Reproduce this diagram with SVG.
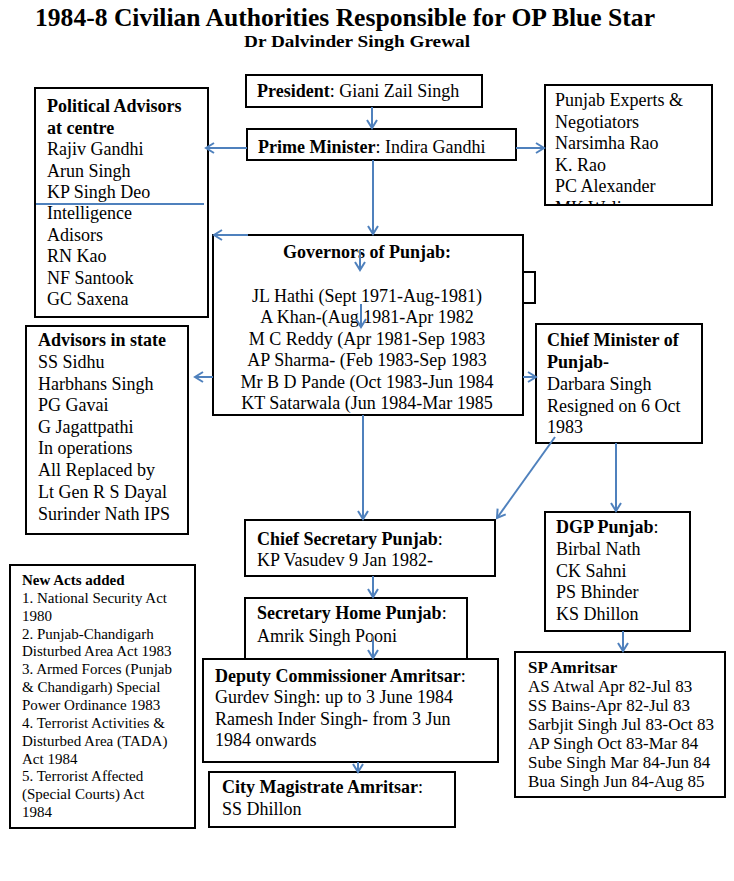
<svg xmlns="http://www.w3.org/2000/svg" width="734" height="881" viewBox="0 0 734 881">
<style>
text{font-family:"Liberation Serif","Times New Roman",serif;font-size:18px;fill:#000}
.b{font-weight:bold}
.s15{font-size:15px}
.s17{font-size:17px}
.box{fill:#fff;stroke:#000;stroke-width:2}
.con{stroke:#4F81BD;stroke-width:2;fill:none}
.arr{marker-end:url(#ah)}
</style>
<defs>
<marker id="ah" markerUnits="userSpaceOnUse" markerWidth="14" markerHeight="14" refX="10" refY="6" orient="auto">
<path d="M2,1 L10,6 L2,11" fill="none" stroke="#4F81BD" stroke-width="2"/>
</marker>
<clipPath id="clipExp"><rect x="546" y="86" width="165" height="118"/></clipPath>
</defs>
<rect width="734" height="881" fill="#fff"/>

<g id="title">
<text x="345" y="26" text-anchor="middle" class="b" style="font-size:26px" textLength="620" lengthAdjust="spacingAndGlyphs">1984-8 Civilian Authorities Responsible for OP Blue Star</text>
<text x="357" y="47" text-anchor="middle" class="b" style="font-size:16px" textLength="226" lengthAdjust="spacingAndGlyphs">Dr Dalvinder Singh Grewal</text>
</g>

<g id="bracket">
<path d="M523,272 H535 V303 H523" fill="none" stroke="#000" stroke-width="2"/>
</g>

<g id="president">
<rect class="box" x="246" y="75" width="236" height="32"/>
<text x="257" y="97"><tspan class="b">President</tspan>: Giani Zail Singh</text>
</g>

<g id="pm">
<rect class="box" x="247" y="129" width="269" height="31"/>
<text x="258" y="153"><tspan class="b">Prime Minister</tspan>: Indira Gandhi</text>
</g>

<g id="political">
<rect class="box" x="35" y="88" width="173" height="229"/>
<text x="47" y="112" class="b">Political Advisors</text>
<text x="47" y="133.5" class="b">at centre</text>
<text x="47" y="155">Rajiv Gandhi</text>
<text x="47" y="177">Arun Singh</text>
<text x="47" y="198">KP Singh Deo</text>
<text x="47" y="219">Intelligence</text>
<text x="47" y="241">Adisors</text>
<text x="47" y="262">RN Kao</text>
<text x="47" y="284">NF Santook</text>
<text x="47" y="305">GC Saxena</text>
</g>

<g id="experts">
<rect class="box" x="545" y="85" width="167" height="120"/>
<g clip-path="url(#clipExp)">
<text x="555" y="106">Punjab Experts &amp;</text>
<text x="555" y="127.5">Negotiators</text>
<text x="555" y="149">Narsimha Rao</text>
<text x="555" y="170.5">K. Rao</text>
<text x="555" y="192">PC Alexander</text>
<text x="555" y="213.5">MK Wali</text>
</g>
</g>

<g id="governors">
<rect class="box" x="213" y="235" width="310" height="180"/>
<text x="367" y="258" text-anchor="middle" class="b">Governors of Punjab:</text>
<text x="367" y="302" text-anchor="middle">JL Hathi (Sept 1971-Aug-1981)</text>
<text x="367" y="323" text-anchor="middle">A Khan-(Aug 1981-Apr 1982</text>
<text x="367" y="344.5" text-anchor="middle">M C Reddy (Apr 1981-Sep 1983</text>
<text x="367" y="366" text-anchor="middle">AP Sharma- (Feb 1983-Sep 1983</text>
<text x="367" y="387.5" text-anchor="middle">Mr B D Pande (Oct 1983-Jun 1984</text>
<text x="367" y="409" text-anchor="middle">KT Satarwala (Jun 1984-Mar 1985</text>
</g>

<g id="advisors-state">
<rect class="box" x="26" y="326" width="162" height="208"/>
<text x="38" y="346" class="b">Advisors in state</text>
<text x="38" y="368">SS Sidhu</text>
<text x="38" y="390">Harbhans Singh</text>
<text x="38" y="411">PG Gavai</text>
<text x="38" y="433">G Jagattpathi</text>
<text x="38" y="454">In operations</text>
<text x="38" y="476">All Replaced by</text>
<text x="38" y="498">Lt Gen R S Dayal</text>
<text x="38" y="520">Surinder Nath IPS</text>
</g>

<g id="chief-minister">
<rect class="box" x="536" y="324" width="166" height="119"/>
<text x="547" y="346" class="b">Chief Minister of</text>
<text x="547" y="368" class="b">Punjab-</text>
<text x="547" y="390">Darbara Singh</text>
<text x="547" y="411.5">Resigned on 6 Oct</text>
<text x="547" y="433">1983</text>
</g>

<g id="chief-secretary">
<rect class="box" x="245" y="520" width="250" height="56"/>
<text x="257" y="545"><tspan class="b">Chief Secretary Punjab</tspan>:</text>
<text x="257" y="566">KP Vasudev 9 Jan 1982-</text>
</g>

<g id="dgp">
<rect class="box" x="545" y="512" width="145" height="119"/>
<text x="556" y="533"><tspan class="b">DGP Punjab</tspan>:</text>
<text x="556" y="555">Birbal Nath</text>
<text x="556" y="577">CK Sahni</text>
<text x="556" y="598">PS Bhinder</text>
<text x="556" y="620">KS Dhillon</text>
</g>

<g id="secretary-home">
<rect class="box" x="245" y="598" width="222" height="61"/>
<text x="257" y="619"><tspan class="b">Secretary Home Punjab</tspan>:</text>
<text x="257" y="642">Amrik Singh Pooni</text>
</g>

<g id="deputy-commissioner">
<rect class="box" x="203" y="659" width="295" height="103"/>
<text x="215" y="682"><tspan class="b">Deputy Commissioner Amritsar</tspan>:</text>
<text x="215" y="703">Gurdev Singh: up to 3 June 1984</text>
<text x="215" y="725">Ramesh Inder Singh- from 3 Jun</text>
<text x="215" y="746">1984 onwards</text>
</g>

<g id="city-magistrate">
<rect class="box" x="209" y="772" width="246" height="55"/>
<text x="222" y="793"><tspan class="b">City Magistrate Amritsar</tspan>:</text>
<text x="222" y="815">SS Dhillon</text>
</g>

<g id="new-acts">
<rect class="box" x="10" y="565" width="185" height="263"/>
<text class="s15 b" x="22" y="585">New Acts added</text>
<text class="s15" x="22" y="602.85">1. National Security Act</text>
<text class="s15" x="22" y="620.7">1980</text>
<text class="s15" x="22" y="638.55">2. Punjab-Chandigarh</text>
<text class="s15" x="22" y="656.4">Disturbed Area Act 1983</text>
<text class="s15" x="22" y="674.25">3. Armed Forces (Punjab</text>
<text class="s15" x="22" y="692.1">&amp; Chandigarh) Special</text>
<text class="s15" x="22" y="709.95">Power Ordinance 1983</text>
<text class="s15" x="22" y="727.8">4. Terrorist Activities &amp;</text>
<text class="s15" x="22" y="745.65">Disturbed Area (TADA)</text>
<text class="s15" x="22" y="763.5">Act 1984</text>
<text class="s15" x="22" y="781.35">5. Terrorist Affected</text>
<text class="s15" x="22" y="799.2">(Special Courts) Act</text>
<text class="s15" x="22" y="817">1984</text>
</g>

<g id="sp-amritsar">
<rect class="box" x="515" y="652" width="210" height="145"/>
<text class="s17 b" x="528" y="673">SP Amritsar</text>
<text class="s17" x="528" y="692">AS Atwal Apr 82-Jul 83</text>
<text class="s17" x="528" y="711">SS Bains-Apr 82-Jul 83</text>
<text class="s17" x="528" y="730">Sarbjit Singh Jul 83-Oct 83</text>
<text class="s17" x="528" y="749">AP Singh Oct 83-Mar 84</text>
<text class="s17" x="528" y="768">Sube Singh Mar 84-Jun 84</text>
<text class="s17" x="528" y="787">Bua Singh Jun 84-Aug 85</text>
</g>

<g id="connectors">
<line class="con" x1="36" y1="204" x2="204" y2="204"/>
<line class="con arr" x1="372" y1="107" x2="372" y2="128"/>
<line class="con arr" x1="247" y1="148" x2="206" y2="148"/>
<line class="con arr" x1="516" y1="148" x2="544" y2="148"/>
<line class="con arr" x1="373" y1="160" x2="373" y2="234"/>
<line class="con arr" x1="248" y1="235" x2="214" y2="235"/>
<line class="con arr" x1="360" y1="250" x2="360" y2="270"/>
<line class="con arr" x1="361" y1="304" x2="361" y2="327"/>
<line class="con arr" x1="213" y1="377" x2="195" y2="377"/>
<line class="con arr" x1="523" y1="377" x2="536" y2="377"/>
<line class="con arr" x1="363" y1="415" x2="363" y2="519"/>
<line class="con arr" x1="616" y1="443" x2="616" y2="511"/>
<line class="con arr" x1="555" y1="437" x2="497" y2="518"/>
<line class="con arr" x1="373" y1="576" x2="373" y2="597"/>
<line class="con arr" x1="373" y1="636" x2="373" y2="658"/>
<line class="con arr" x1="358" y1="762" x2="358" y2="772"/>
<line class="con arr" x1="623" y1="631" x2="623" y2="651"/>
</g>
</svg>
